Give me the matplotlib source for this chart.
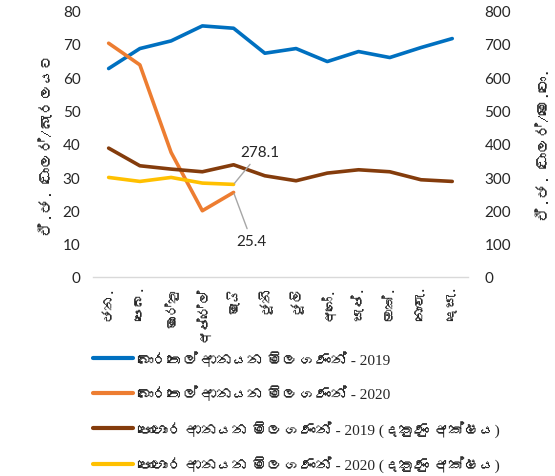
import matplotlib
matplotlib.use("Agg")
import matplotlib.pyplot as plt
import matplotlib.font_manager as fm
from matplotlib.ft2font import FT2Font

# ---------------- data ----------------
months = ["ජන.", "පෙබ.", "මාර්තු", "අප්රේල්", "මැයි", "ජූනි", "ජූලි",
          "අගෝ.", "සැප්.", "ඔක්.", "නොවැ.", "දෙසැ."]
crude_2019 = [62.6, 68.6, 70.9, 75.4, 74.7, 67.2, 68.6, 64.7, 67.7, 65.9, 68.9, 71.6]
crude_2020 = [70.2, 63.7, 37.4, 19.9, 25.4]
fert_2019 = [387, 334, 324, 316, 337, 304, 289, 312, 322, 316, 292, 287]
fert_2020 = [299, 287, 299, 282, 278.1]

left_ticks = [0, 10, 20, 30, 40, 50, 60, 70, 80]
right_ticks = [0, 100, 200, 300, 400, 500, 600, 700, 800]

labels = ["බොරතෙල් ආනයන මිල ගණන් - 2019",
          "බොරතෙල් ආනයන මිල ගණන් - 2020",
          "පොහොර ආනයන මිල ගණන් - 2019 (දකුණු අක්ෂය)",
          "පොහොර ආනයන මිල ගණන් - 2020 (දකුණු අක්ෂය)"]
left_label = "ඒ.ජ. ඩොලර්/බැරලයට"
right_label = "ඒ.ජ. ඩොලර්/මෙ.ටො."

colors = ["#0070C0", "#ED7D31", "#843C0C", "#FFC000"]

# ---------------- fonts ----------------
def find_family(ch):
    seen = set()
    for f in fm.fontManager.ttflist:
        if f.fname in seen:
            continue
        seen.add(f.fname)
        try:
            if ord(ch) in FT2Font(f.fname).get_charmap():
                return f.name
        except Exception:
            pass
    return None

sinh = find_family("ක")
num_font = "Lato"
fam_num = [num_font] + ([sinh] if sinh else []) + ["DejaVu Sans"]
fam_sinh = ([sinh] if sinh else []) + ["DejaVu Sans"]
fam_leg = ["Liberation Serif"] + ([sinh] if sinh else []) + ["DejaVu Sans"]
plt.rcParams["font.family"] = fam_num

txt = "#262626"

fig = plt.figure(figsize=(5.55, 4.77), dpi=100)
ax = fig.add_axes([0.1676, 0.4172, 0.843 - 0.1676, 0.9757 - 0.4172])
ax2 = ax.twinx()

x = list(range(len(months)))
l1, = ax.plot(x, crude_2019, color=colors[0], lw=2.6, solid_capstyle="round", label=labels[0])
l2, = ax.plot(x[:len(crude_2020)], crude_2020, color=colors[1], lw=2.6, solid_capstyle="round", label=labels[1])
l3, = ax2.plot(x, fert_2019, color=colors[2], lw=2.6, solid_capstyle="round", label=labels[2])
l4, = ax2.plot(x[:len(fert_2020)], fert_2020, color=colors[3], lw=2.6, solid_capstyle="round", label=labels[3])

ax.set_xlim(-0.5, 11.5)
ax.set_ylim(0, 80)
ax2.set_ylim(0, 800)
ax.set_yticks(left_ticks)
ax2.set_yticks(right_ticks)
ax.set_xticks(x)
ax.set_xticklabels(months, rotation=90, family=fam_sinh, fontsize=10, color=txt, va="top")

for a in (ax, ax2):
    for s in ("left", "right", "top", "bottom"):
        a.spines[s].set_visible(False)
ax.spines["bottom"].set_visible(True)
ax.spines["bottom"].set_color("#D9D9D9")
ax.spines["bottom"].set_linewidth(1.0)

ax.tick_params(axis="y", length=0, pad=9, labelsize=11, labelcolor=txt)
ax2.tick_params(axis="y", length=0, pad=12, labelsize=11, labelcolor=txt)
ax.tick_params(axis="x", length=0, pad=6)

ax.set_ylabel(left_label, family=fam_sinh, fontsize=11, color=txt, labelpad=6)
ax2.set_ylabel(right_label, family=fam_sinh, fontsize=11, color=txt, rotation=90, labelpad=19)

# data labels for last 2020 points
ax2.annotate(f"{fert_2020[-1]:.1f}", xy=(len(fert_2020) - 1, fert_2020[-1]),
             xytext=(4.84, fert_2020[-1] + 75), textcoords="data",
             ha="center", va="bottom", fontsize=11, color=txt,
             arrowprops=dict(arrowstyle="-", color="#A6A6A6", lw=1, shrinkA=2, shrinkB=1))
ax.annotate(f"{crude_2020[-1]:.1f}", xy=(len(crude_2020) - 1, crude_2020[-1]),
            xytext=(4.58, crude_2020[-1] - 12.5), textcoords="data",
            ha="center", va="top", fontsize=11, color=txt,
            arrowprops=dict(arrowstyle="-", color="#A6A6A6", lw=1, shrinkA=2, shrinkB=1))

leg = fig.legend(handles=[l1, l2, l3, l4], loc="upper left",
                 bbox_to_anchor=(0.168, 0.262), frameon=False,
                 prop=fm.FontProperties(family=fam_leg, size=11),
                 handlelength=2.6, handletextpad=0.25, labelspacing=1.22,
                 borderaxespad=0, borderpad=0)
for lh in leg.get_lines():
    lh.set_linewidth(3)
for t in leg.get_texts():
    t.set_color(txt)

fig.savefig("out.png", dpi=100)
